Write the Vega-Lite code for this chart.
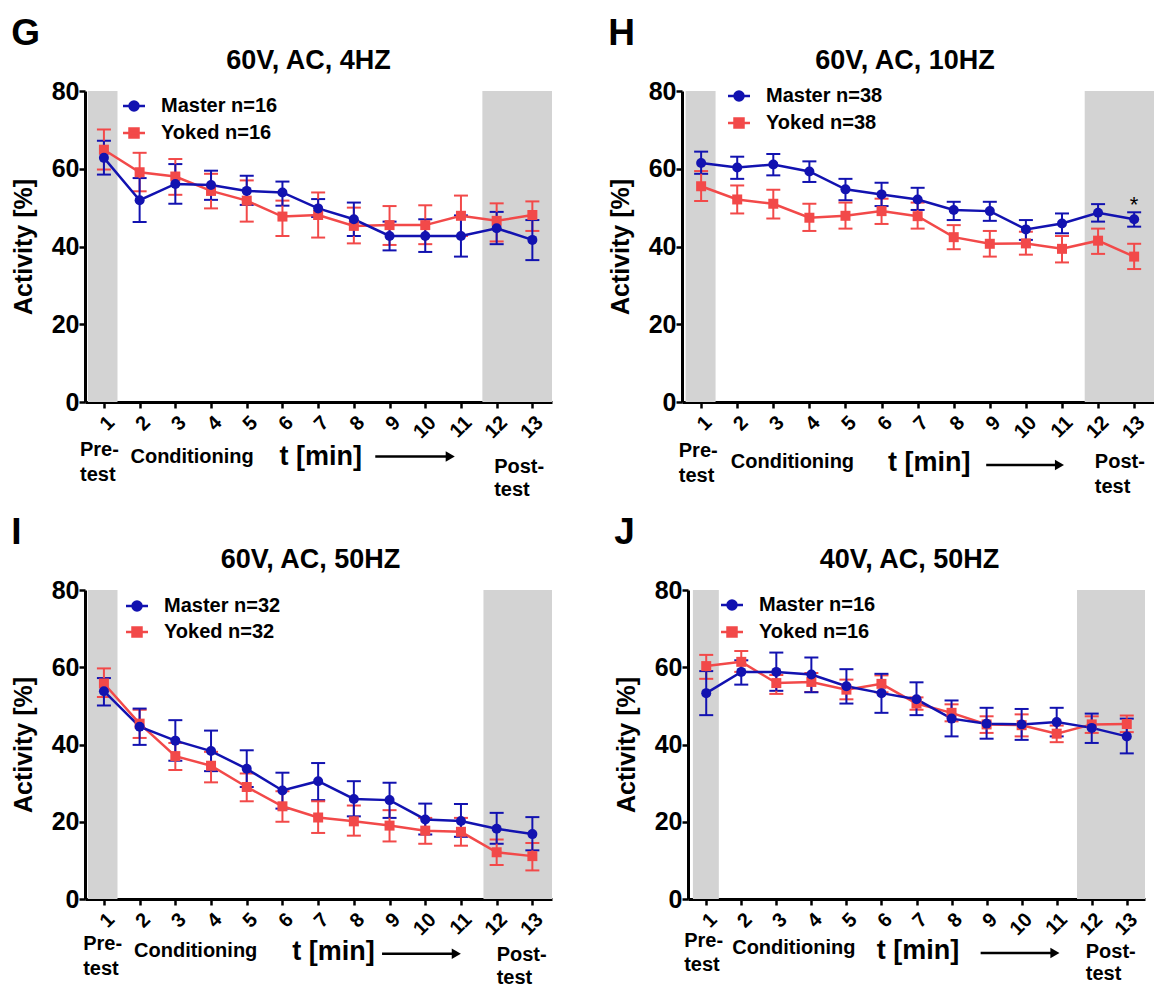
{
  "$schema": "https://vega.github.io/schema/vega-lite/v6.json",
  "autosize": {"type": "pad"},
  "padding": {"left": 11, "top": 15, "right": 0, "bottom": 0},
  "background": "white",
  "config": {
    "font": "Liberation Sans",
    "view": {"stroke": null},
    "axis": {"domainColor": "#000", "domainWidth": 3, "tickColor": "#000", "tickWidth": 2.5, "tickSize": 6, "labelColor": "#000", "labelFont": "Liberation Sans", "labelFontWeight": "bold", "titleColor": "#000", "titleFont": "Liberation Sans", "titleFontWeight": "bold", "grid": false},
    "axisX": {"labelFontSize": 20, "labelAngle": -45, "labelPadding": 4, "tickCount": 13, "labelOverlap": false},
    "axisY": {"labelFontSize": 25, "titleFontSize": 25, "labelPadding": 0, "titlePadding": 15},
    "legend": {"title": null, "orient": "none", "padding": 0, "labelFont": "Liberation Sans", "labelFontSize": 20, "labelFontWeight": "bold", "labelColor": "#000", "symbolSize": 100, "labelOffset": 17, "symbolStrokeWidth": 2.5, "symbolOpacity": 1},
    "title": {"color": "#000", "font": "Liberation Sans", "fontWeight": "bold"},
    "text": {"font": "Liberation Sans", "color": "#000"}
  },
  "resolve": {"scale": {"color": "independent", "shape": "independent"}, "legend": {"color": "independent", "shape": "independent"}},
  "datasets": {
    "G": [
      {"t":1,"grp":"Yoked n=16","m":64.9,"lo":59.8,"hi":70.1},
      {"t":2,"grp":"Yoked n=16","m":59.1,"lo":54.2,"hi":64.1},
      {"t":3,"grp":"Yoked n=16","m":58.0,"lo":53.3,"hi":62.5},
      {"t":4,"grp":"Yoked n=16","m":54.3,"lo":49.8,"hi":58.7},
      {"t":5,"grp":"Yoked n=16","m":51.8,"lo":46.4,"hi":57.0},
      {"t":6,"grp":"Yoked n=16","m":47.7,"lo":42.7,"hi":51.8},
      {"t":7,"grp":"Yoked n=16","m":48.1,"lo":42.3,"hi":53.9},
      {"t":8,"grp":"Yoked n=16","m":45.3,"lo":40.8,"hi":50.0},
      {"t":9,"grp":"Yoked n=16","m":45.5,"lo":40.4,"hi":50.4},
      {"t":10,"grp":"Yoked n=16","m":45.5,"lo":40.6,"hi":50.6},
      {"t":11,"grp":"Yoked n=16","m":47.9,"lo":42.7,"hi":53.1},
      {"t":12,"grp":"Yoked n=16","m":46.6,"lo":41.3,"hi":51.1},
      {"t":13,"grp":"Yoked n=16","m":48.1,"lo":44.0,"hi":51.6},
      {"t":1,"grp":"Master n=16","m":62.8,"lo":58.5,"hi":67.2},
      {"t":2,"grp":"Master n=16","m":51.9,"lo":46.3,"hi":57.6},
      {"t":3,"grp":"Master n=16","m":56.1,"lo":51.0,"hi":61.2},
      {"t":4,"grp":"Master n=16","m":55.8,"lo":52.0,"hi":59.5},
      {"t":5,"grp":"Master n=16","m":54.3,"lo":50.7,"hi":58.2},
      {"t":6,"grp":"Master n=16","m":53.9,"lo":50.5,"hi":56.7},
      {"t":7,"grp":"Master n=16","m":49.8,"lo":47.6,"hi":52.2},
      {"t":8,"grp":"Master n=16","m":47.0,"lo":42.7,"hi":51.3},
      {"t":9,"grp":"Master n=16","m":42.7,"lo":39.0,"hi":46.4},
      {"t":10,"grp":"Master n=16","m":42.7,"lo":38.6,"hi":47.0},
      {"t":11,"grp":"Master n=16","m":42.7,"lo":37.4,"hi":48.0},
      {"t":12,"grp":"Master n=16","m":44.7,"lo":40.6,"hi":48.9},
      {"t":13,"grp":"Master n=16","m":41.7,"lo":36.5,"hi":46.8}
    ],
    "H": [
      {"t":1,"grp":"Yoked n=38","m":55.5,"lo":51.7,"hi":59.4},
      {"t":2,"grp":"Yoked n=38","m":52.1,"lo":48.5,"hi":55.7},
      {"t":3,"grp":"Yoked n=38","m":51.0,"lo":47.2,"hi":54.6},
      {"t":4,"grp":"Yoked n=38","m":47.4,"lo":44.0,"hi":51.0},
      {"t":5,"grp":"Yoked n=38","m":47.9,"lo":44.6,"hi":51.3},
      {"t":6,"grp":"Yoked n=38","m":49.1,"lo":45.8,"hi":52.3},
      {"t":7,"grp":"Yoked n=38","m":47.8,"lo":44.6,"hi":51.3},
      {"t":8,"grp":"Yoked n=38","m":42.4,"lo":39.3,"hi":45.5},
      {"t":9,"grp":"Yoked n=38","m":40.7,"lo":37.4,"hi":44.0},
      {"t":10,"grp":"Yoked n=38","m":40.8,"lo":37.9,"hi":43.8},
      {"t":11,"grp":"Yoked n=38","m":39.4,"lo":35.9,"hi":42.7},
      {"t":12,"grp":"Yoked n=38","m":41.5,"lo":38.1,"hi":44.6},
      {"t":13,"grp":"Yoked n=38","m":37.4,"lo":34.2,"hi":40.7},
      {"t":1,"grp":"Master n=38","m":61.5,"lo":58.7,"hi":64.4},
      {"t":2,"grp":"Master n=38","m":60.3,"lo":57.4,"hi":63.1},
      {"t":3,"grp":"Master n=38","m":61.1,"lo":58.3,"hi":63.8},
      {"t":4,"grp":"Master n=38","m":59.3,"lo":56.6,"hi":61.9},
      {"t":5,"grp":"Master n=38","m":54.7,"lo":51.9,"hi":57.4},
      {"t":6,"grp":"Master n=38","m":53.4,"lo":50.4,"hi":56.4},
      {"t":7,"grp":"Master n=38","m":52.1,"lo":49.4,"hi":55.1},
      {"t":8,"grp":"Master n=38","m":49.4,"lo":46.8,"hi":51.5},
      {"t":9,"grp":"Master n=38","m":49.1,"lo":46.6,"hi":51.5},
      {"t":10,"grp":"Master n=38","m":44.4,"lo":41.7,"hi":46.8},
      {"t":11,"grp":"Master n=38","m":45.9,"lo":43.4,"hi":48.5},
      {"t":12,"grp":"Master n=38","m":48.7,"lo":46.4,"hi":50.9},
      {"t":13,"grp":"Master n=38","m":47.0,"lo":45.1,"hi":48.8}
    ],
    "I": [
      {"t":1,"grp":"Yoked n=32","m":55.8,"lo":52.3,"hi":59.7},
      {"t":2,"grp":"Yoked n=32","m":45.4,"lo":41.7,"hi":49.0},
      {"t":3,"grp":"Yoked n=32","m":37.0,"lo":33.4,"hi":40.4},
      {"t":4,"grp":"Yoked n=32","m":34.5,"lo":30.2,"hi":38.1},
      {"t":5,"grp":"Yoked n=32","m":29.0,"lo":25.3,"hi":32.5},
      {"t":6,"grp":"Yoked n=32","m":24.0,"lo":20.0,"hi":27.9},
      {"t":7,"grp":"Yoked n=32","m":21.1,"lo":17.1,"hi":25.3},
      {"t":8,"grp":"Yoked n=32","m":20.1,"lo":16.4,"hi":24.2},
      {"t":9,"grp":"Yoked n=32","m":19.0,"lo":14.9,"hi":23.0},
      {"t":10,"grp":"Yoked n=32","m":17.7,"lo":14.3,"hi":21.0},
      {"t":11,"grp":"Yoked n=32","m":17.4,"lo":13.8,"hi":21.0},
      {"t":12,"grp":"Yoked n=32","m":12.1,"lo":8.8,"hi":15.4},
      {"t":13,"grp":"Yoked n=32","m":11.1,"lo":7.4,"hi":14.5},
      {"t":1,"grp":"Master n=32","m":53.8,"lo":50.1,"hi":57.2},
      {"t":2,"grp":"Master n=32","m":44.6,"lo":39.9,"hi":49.3},
      {"t":3,"grp":"Master n=32","m":41.0,"lo":35.8,"hi":46.3},
      {"t":4,"grp":"Master n=32","m":38.3,"lo":33.1,"hi":43.6},
      {"t":5,"grp":"Master n=32","m":33.7,"lo":29.0,"hi":38.5},
      {"t":6,"grp":"Master n=32","m":28.1,"lo":23.4,"hi":32.7},
      {"t":7,"grp":"Master n=32","m":30.5,"lo":25.6,"hi":35.2},
      {"t":8,"grp":"Master n=32","m":25.9,"lo":21.4,"hi":30.5},
      {"t":9,"grp":"Master n=32","m":25.6,"lo":21.0,"hi":30.1},
      {"t":10,"grp":"Master n=32","m":20.6,"lo":16.7,"hi":24.7},
      {"t":11,"grp":"Master n=32","m":20.2,"lo":16.1,"hi":24.6},
      {"t":12,"grp":"Master n=32","m":18.2,"lo":14.3,"hi":22.3},
      {"t":13,"grp":"Master n=32","m":16.8,"lo":12.6,"hi":21.2}
    ],
    "J": [
      {"t":1,"grp":"Yoked n=16","m":60.3,"lo":57.0,"hi":63.2},
      {"t":2,"grp":"Yoked n=16","m":61.4,"lo":58.8,"hi":64.2},
      {"t":3,"grp":"Yoked n=16","m":55.9,"lo":53.1,"hi":58.0},
      {"t":4,"grp":"Yoked n=16","m":56.2,"lo":53.6,"hi":58.5},
      {"t":5,"grp":"Yoked n=16","m":54.2,"lo":51.7,"hi":56.8},
      {"t":6,"grp":"Yoked n=16","m":55.7,"lo":53.5,"hi":57.9},
      {"t":7,"grp":"Yoked n=16","m":50.6,"lo":49.0,"hi":52.2},
      {"t":8,"grp":"Yoked n=16","m":48.2,"lo":46.0,"hi":50.4},
      {"t":9,"grp":"Yoked n=16","m":45.2,"lo":43.0,"hi":47.3},
      {"t":10,"grp":"Yoked n=16","m":45.0,"lo":42.1,"hi":47.8},
      {"t":11,"grp":"Yoked n=16","m":42.8,"lo":40.6,"hi":44.9},
      {"t":12,"grp":"Yoked n=16","m":45.2,"lo":43.0,"hi":47.3},
      {"t":13,"grp":"Yoked n=16","m":45.3,"lo":43.2,"hi":47.5},
      {"t":1,"grp":"Master n=16","m":53.3,"lo":47.6,"hi":59.0},
      {"t":2,"grp":"Master n=16","m":58.8,"lo":55.5,"hi":61.8},
      {"t":3,"grp":"Master n=16","m":58.8,"lo":53.9,"hi":63.8},
      {"t":4,"grp":"Master n=16","m":58.1,"lo":53.5,"hi":62.5},
      {"t":5,"grp":"Master n=16","m":55.1,"lo":50.6,"hi":59.5},
      {"t":6,"grp":"Master n=16","m":53.3,"lo":48.2,"hi":58.3},
      {"t":7,"grp":"Master n=16","m":51.7,"lo":47.6,"hi":56.1},
      {"t":8,"grp":"Master n=16","m":46.7,"lo":42.1,"hi":51.4},
      {"t":9,"grp":"Master n=16","m":45.4,"lo":41.5,"hi":49.5},
      {"t":10,"grp":"Master n=16","m":45.2,"lo":41.2,"hi":49.2},
      {"t":11,"grp":"Master n=16","m":45.8,"lo":42.1,"hi":49.5},
      {"t":12,"grp":"Master n=16","m":44.3,"lo":40.4,"hi":48.0},
      {"t":13,"grp":"Master n=16","m":42.1,"lo":37.7,"hi":46.7}
    ]
  },
  "vconcat": [
    {
      "resolve": {"scale": {"color": "independent", "shape": "independent"}, "legend": {"color": "independent", "shape": "independent"}},
      "hconcat": [
        {
          "title": {"text": "G", "anchor": "start", "frame": "bounds", "fontSize": 37, "offset": -6},
          "vconcat": [
            {
              "title": {"text": "60V, AC, 4HZ", "anchor": "middle", "fontSize": 27, "offset": 4, "dx": -10},
              "width": 467, "height": 311,
              "resolve": {"scale": {"color": "independent"}, "legend": {"color": "independent"}},
              "layer": [
                {"data": {"values": [{}]}, "mark": {"type": "rect", "color": "#d3d3d3"}, "encoding": {"x": {"datum": 0.55, "type": "quantitative", "scale": {"domain": [0.47, 13.55], "nice": false, "zero": false}, "axis": {"values": [1,2,3,4,5,6,7,8,9,10,11,12,13], "tickCount": 13, "title": null, "format": "d", "labelOverlap": false, "labelBound": false, "labelFlush": false}}, "x2": {"datum": 1.38}, "y": {"datum": 0, "type": "quantitative", "scale": {"domain": [0, 80], "nice": false}, "axis": {"values": [0,20,40,60,80], "title": "Activity [%]"}}, "y2": {"datum": 80}}},
                {"data": {"values": [{}]}, "mark": {"type": "rect", "color": "#d3d3d3"}, "encoding": {"x": {"datum": 11.6, "type": "quantitative"}, "x2": {"datum": 13.55}, "y": {"datum": 0, "type": "quantitative"}, "y2": {"datum": 80}}},
                {"data": {"name": "G"}, "mark": {"type": "errorbar", "thickness": 2, "opacity": 1, "ticks": {"size": 14, "thickness": 2}}, "encoding": {"x": {"field": "t", "type": "quantitative"}, "y": {"field": "lo", "type": "quantitative", "title": "Activity [%]"}, "y2": {"field": "hi"}, "color": {"field": "grp", "type": "nominal", "scale": {"domain": ["Master n=16", "Yoked n=16"], "range": ["#1212b0", "#f24949"]}, "legend": null}}},
                {"data": {"name": "G"}, "mark": {"type": "line", "strokeWidth": 2.5}, "encoding": {"x": {"field": "t", "type": "quantitative"}, "y": {"field": "m", "type": "quantitative", "title": "Activity [%]"}, "color": {"field": "grp", "type": "nominal", "scale": {"domain": ["Master n=16", "Yoked n=16"], "range": ["#1212b0", "#f24949"]}, "legend": null}}},
                {"data": {"name": "G"}, "mark": {"type": "point", "filled": true, "opacity": 1, "size": 100}, "encoding": {"x": {"field": "t", "type": "quantitative"}, "y": {"field": "m", "type": "quantitative", "title": "Activity [%]"}, "color": {"field": "grp", "type": "nominal", "scale": {"domain": ["Master n=16", "Yoked n=16"], "range": ["#1212b0", "#f24949"]}, "legend": null}, "shape": {"field": "grp", "type": "nominal", "scale": {"domain": ["Master n=16", "Yoked n=16"], "range": ["circle", "square"]}, "legend": null}}},
                {"data": {"name": "G"}, "mark": {"type": "point", "filled": true, "opacity": 0, "size": 1}, "encoding": {"x": {"field": "t", "type": "quantitative"}, "y": {"field": "m", "type": "quantitative", "title": "Activity [%]"}, "color": {"field": "grp", "type": "nominal", "scale": {"domain": ["Master n=16", "Yoked n=16"], "range": ["#1212b0", "#f24949"]}, "legend": {"values": ["Master n=16"], "legendX": 39, "legendY": 5, "symbolType": "M-2.2,0L2.2,0M-0.9,0A0.9,0.9,0,1,0,0.9,0A0.9,0.9,0,1,0,-0.9,0Z", "symbolFillColor": "#1212b0", "symbolStrokeColor": "#1212b0"}}}},
                {"data": {"name": "G"}, "mark": {"type": "point", "filled": true, "opacity": 0, "size": 1}, "encoding": {"x": {"field": "t", "type": "quantitative"}, "y": {"field": "m", "type": "quantitative", "title": "Activity [%]"}, "color": {"field": "grp", "type": "nominal", "scale": {"domain": ["Master n=16", "Yoked n=16"], "range": ["#1212b0", "#f24949"]}, "legend": {"values": ["Yoked n=16"], "legendX": 39, "legendY": 32, "symbolType": "M-2.2,0L2.2,0M-0.9,-0.9L0.9,-0.9L0.9,0.9L-0.9,0.9Z", "symbolFillColor": "#f24949", "symbolStrokeColor": "#f24949"}}}},
                {"data": {"values": [{}]}, "mark": {"type": "text", "align": "left", "baseline": "alphabetic", "fontSize": 20, "fontWeight": "bold", "lineHeight": 25}, "encoding": {"x": {"datum": 0.33, "type": "quantitative"}, "y": {"datum": -13.8, "type": "quantitative"}, "text": {"value": ["Pre-", "test"]}}},
                {"data": {"values": [{}]}, "mark": {"type": "text", "align": "center", "baseline": "alphabetic", "fontSize": 20, "fontWeight": "bold"}, "encoding": {"x": {"datum": 3.47, "type": "quantitative"}, "y": {"datum": -15.8, "type": "quantitative"}, "text": {"value": "Conditioning"}}},
                {"data": {"values": [{}]}, "mark": {"type": "text", "align": "center", "baseline": "alphabetic", "fontSize": 27, "fontWeight": "bold"}, "encoding": {"x": {"datum": 7.07, "type": "quantitative"}, "y": {"datum": -16.3, "type": "quantitative"}, "text": {"value": "t [min]"}}},
                {"data": {"values": [{}]}, "mark": {"type": "rule", "strokeWidth": 2.5, "color": "#000"}, "encoding": {"x": {"datum": 8.6, "type": "quantitative"}, "x2": {"datum": 10.6}, "y": {"datum": -14.0, "type": "quantitative"}}},
                {"data": {"values": [{}]}, "mark": {"type": "point", "shape": "triangle-right", "filled": true, "color": "#000", "opacity": 1, "size": 110}, "encoding": {"x": {"datum": 10.7, "type": "quantitative"}, "y": {"datum": -14.0, "type": "quantitative"}}},
                {"data": {"values": [{}]}, "mark": {"type": "text", "align": "left", "baseline": "alphabetic", "fontSize": 20, "fontWeight": "bold", "lineHeight": 23}, "encoding": {"x": {"datum": 11.93, "type": "quantitative"}, "y": {"datum": -18.3, "type": "quantitative"}, "text": {"value": ["Post-", "test"]}}}
              ]
            }
          ]
        },
        {
          "title": {"text": "H", "anchor": "start", "frame": "bounds", "fontSize": 37, "offset": -6},
          "vconcat": [
            {
              "title": {"text": "60V, AC, 10HZ", "anchor": "middle", "fontSize": 27, "offset": 4, "dx": -13},
              "width": 472, "height": 311,
              "resolve": {"scale": {"color": "independent"}, "legend": {"color": "independent"}},
              "layer": [
                {"data": {"values": [{}]}, "mark": {"type": "rect", "color": "#d3d3d3"}, "encoding": {"x": {"datum": 0.57, "type": "quantitative", "scale": {"domain": [0.47, 13.55], "nice": false, "zero": false}, "axis": {"values": [1,2,3,4,5,6,7,8,9,10,11,12,13], "tickCount": 13, "title": null, "format": "d", "labelOverlap": false, "labelBound": false, "labelFlush": false}}, "x2": {"datum": 1.4}, "y": {"datum": 0, "type": "quantitative", "scale": {"domain": [0, 80], "nice": false}, "axis": {"values": [0,20,40,60,80], "title": "Activity [%]"}}, "y2": {"datum": 80}}},
                {"data": {"values": [{}]}, "mark": {"type": "rect", "color": "#d3d3d3"}, "encoding": {"x": {"datum": 11.63, "type": "quantitative"}, "x2": {"datum": 13.55}, "y": {"datum": 0, "type": "quantitative"}, "y2": {"datum": 80}}},
                {"data": {"name": "H"}, "mark": {"type": "errorbar", "thickness": 2, "opacity": 1, "ticks": {"size": 14, "thickness": 2}}, "encoding": {"x": {"field": "t", "type": "quantitative"}, "y": {"field": "lo", "type": "quantitative", "title": "Activity [%]"}, "y2": {"field": "hi"}, "color": {"field": "grp", "type": "nominal", "scale": {"domain": ["Master n=38", "Yoked n=38"], "range": ["#1212b0", "#f24949"]}, "legend": null}}},
                {"data": {"name": "H"}, "mark": {"type": "line", "strokeWidth": 2.5}, "encoding": {"x": {"field": "t", "type": "quantitative"}, "y": {"field": "m", "type": "quantitative", "title": "Activity [%]"}, "color": {"field": "grp", "type": "nominal", "scale": {"domain": ["Master n=38", "Yoked n=38"], "range": ["#1212b0", "#f24949"]}, "legend": null}}},
                {"data": {"name": "H"}, "mark": {"type": "point", "filled": true, "opacity": 1, "size": 100}, "encoding": {"x": {"field": "t", "type": "quantitative"}, "y": {"field": "m", "type": "quantitative", "title": "Activity [%]"}, "color": {"field": "grp", "type": "nominal", "scale": {"domain": ["Master n=38", "Yoked n=38"], "range": ["#1212b0", "#f24949"]}, "legend": null}, "shape": {"field": "grp", "type": "nominal", "scale": {"domain": ["Master n=38", "Yoked n=38"], "range": ["circle", "square"]}, "legend": null}}},
                {"data": {"name": "H"}, "mark": {"type": "point", "filled": true, "opacity": 0, "size": 1}, "encoding": {"x": {"field": "t", "type": "quantitative"}, "y": {"field": "m", "type": "quantitative", "title": "Activity [%]"}, "color": {"field": "grp", "type": "nominal", "scale": {"domain": ["Master n=38", "Yoked n=38"], "range": ["#1212b0", "#f24949"]}, "legend": {"values": ["Master n=38"], "legendX": 47, "legendY": -5, "symbolType": "M-2.2,0L2.2,0M-0.9,0A0.9,0.9,0,1,0,0.9,0A0.9,0.9,0,1,0,-0.9,0Z", "symbolFillColor": "#1212b0", "symbolStrokeColor": "#1212b0"}}}},
                {"data": {"name": "H"}, "mark": {"type": "point", "filled": true, "opacity": 0, "size": 1}, "encoding": {"x": {"field": "t", "type": "quantitative"}, "y": {"field": "m", "type": "quantitative", "title": "Activity [%]"}, "color": {"field": "grp", "type": "nominal", "scale": {"domain": ["Master n=38", "Yoked n=38"], "range": ["#1212b0", "#f24949"]}, "legend": {"values": ["Yoked n=38"], "legendX": 47, "legendY": 22, "symbolType": "M-2.2,0L2.2,0M-0.9,-0.9L0.9,-0.9L0.9,0.9L-0.9,0.9Z", "symbolFillColor": "#f24949", "symbolStrokeColor": "#f24949"}}}},
                {"data": {"values": [{}]}, "mark": {"type": "text", "align": "center", "baseline": "alphabetic", "fontSize": 22}, "encoding": {"x": {"datum": 13, "type": "quantitative"}, "y": {"datum": 48.8, "type": "quantitative"}, "text": {"value": "*"}}},
                {"data": {"values": [{}]}, "mark": {"type": "text", "align": "left", "baseline": "alphabetic", "fontSize": 20, "fontWeight": "bold", "lineHeight": 25}, "encoding": {"x": {"datum": 0.38, "type": "quantitative"}, "y": {"datum": -14.1, "type": "quantitative"}, "text": {"value": ["Pre-", "test"]}}},
                {"data": {"values": [{}]}, "mark": {"type": "text", "align": "center", "baseline": "alphabetic", "fontSize": 20, "fontWeight": "bold"}, "encoding": {"x": {"datum": 3.53, "type": "quantitative"}, "y": {"datum": -17.0, "type": "quantitative"}, "text": {"value": "Conditioning"}}},
                {"data": {"values": [{}]}, "mark": {"type": "text", "align": "center", "baseline": "alphabetic", "fontSize": 27, "fontWeight": "bold"}, "encoding": {"x": {"datum": 7.32, "type": "quantitative"}, "y": {"datum": -17.8, "type": "quantitative"}, "text": {"value": "t [min]"}}},
                {"data": {"values": [{}]}, "mark": {"type": "rule", "strokeWidth": 2.5, "color": "#000"}, "encoding": {"x": {"datum": 8.9, "type": "quantitative"}, "x2": {"datum": 10.85}, "y": {"datum": -16.2, "type": "quantitative"}}},
                {"data": {"values": [{}]}, "mark": {"type": "point", "shape": "triangle-right", "filled": true, "color": "#000", "opacity": 1, "size": 110}, "encoding": {"x": {"datum": 10.93, "type": "quantitative"}, "y": {"datum": -16.2, "type": "quantitative"}}},
                {"data": {"values": [{}]}, "mark": {"type": "text", "align": "left", "baseline": "alphabetic", "fontSize": 20, "fontWeight": "bold", "lineHeight": 25}, "encoding": {"x": {"datum": 11.91, "type": "quantitative"}, "y": {"datum": -17.0, "type": "quantitative"}, "text": {"value": ["Post-", "test"]}}}
              ]
            }
          ]
        }
      ],
      "spacing": 56
    },
    {
      "resolve": {"scale": {"color": "independent", "shape": "independent"}, "legend": {"color": "independent", "shape": "independent"}},
      "hconcat": [
        {
          "title": {"text": "I", "anchor": "start", "frame": "bounds", "fontSize": 37, "offset": -6},
          "vconcat": [
            {
              "title": {"text": "60V, AC, 50HZ", "anchor": "middle", "fontSize": 27, "offset": 4, "dx": -8},
              "width": 467, "height": 309,
              "resolve": {"scale": {"color": "independent"}, "legend": {"color": "independent"}},
              "layer": [
                {"data": {"values": [{}]}, "mark": {"type": "rect", "color": "#d3d3d3"}, "encoding": {"x": {"datum": 0.55, "type": "quantitative", "scale": {"domain": [0.47, 13.55], "nice": false, "zero": false}, "axis": {"values": [1,2,3,4,5,6,7,8,9,10,11,12,13], "tickCount": 13, "title": null, "format": "d", "labelOverlap": false, "labelBound": false, "labelFlush": false}}, "x2": {"datum": 1.38}, "y": {"datum": 0, "type": "quantitative", "scale": {"domain": [0, 80], "nice": false}, "axis": {"values": [0,20,40,60,80], "title": "Activity [%]"}}, "y2": {"datum": 80}}},
                {"data": {"values": [{}]}, "mark": {"type": "rect", "color": "#d3d3d3"}, "encoding": {"x": {"datum": 11.63, "type": "quantitative"}, "x2": {"datum": 13.55}, "y": {"datum": 0, "type": "quantitative"}, "y2": {"datum": 80}}},
                {"data": {"name": "I"}, "mark": {"type": "errorbar", "thickness": 2, "opacity": 1, "ticks": {"size": 14, "thickness": 2}}, "encoding": {"x": {"field": "t", "type": "quantitative"}, "y": {"field": "lo", "type": "quantitative", "title": "Activity [%]"}, "y2": {"field": "hi"}, "color": {"field": "grp", "type": "nominal", "scale": {"domain": ["Master n=32", "Yoked n=32"], "range": ["#1212b0", "#f24949"]}, "legend": null}}},
                {"data": {"name": "I"}, "mark": {"type": "line", "strokeWidth": 2.5}, "encoding": {"x": {"field": "t", "type": "quantitative"}, "y": {"field": "m", "type": "quantitative", "title": "Activity [%]"}, "color": {"field": "grp", "type": "nominal", "scale": {"domain": ["Master n=32", "Yoked n=32"], "range": ["#1212b0", "#f24949"]}, "legend": null}}},
                {"data": {"name": "I"}, "mark": {"type": "point", "filled": true, "opacity": 1, "size": 100}, "encoding": {"x": {"field": "t", "type": "quantitative"}, "y": {"field": "m", "type": "quantitative", "title": "Activity [%]"}, "color": {"field": "grp", "type": "nominal", "scale": {"domain": ["Master n=32", "Yoked n=32"], "range": ["#1212b0", "#f24949"]}, "legend": null}, "shape": {"field": "grp", "type": "nominal", "scale": {"domain": ["Master n=32", "Yoked n=32"], "range": ["circle", "square"]}, "legend": null}}},
                {"data": {"name": "I"}, "mark": {"type": "point", "filled": true, "opacity": 0, "size": 1}, "encoding": {"x": {"field": "t", "type": "quantitative"}, "y": {"field": "m", "type": "quantitative", "title": "Activity [%]"}, "color": {"field": "grp", "type": "nominal", "scale": {"domain": ["Master n=32", "Yoked n=32"], "range": ["#1212b0", "#f24949"]}, "legend": {"values": ["Master n=32"], "legendX": 42, "legendY": 6, "symbolType": "M-2.2,0L2.2,0M-0.9,0A0.9,0.9,0,1,0,0.9,0A0.9,0.9,0,1,0,-0.9,0Z", "symbolFillColor": "#1212b0", "symbolStrokeColor": "#1212b0"}}}},
                {"data": {"name": "I"}, "mark": {"type": "point", "filled": true, "opacity": 0, "size": 1}, "encoding": {"x": {"field": "t", "type": "quantitative"}, "y": {"field": "m", "type": "quantitative", "title": "Activity [%]"}, "color": {"field": "grp", "type": "nominal", "scale": {"domain": ["Master n=32", "Yoked n=32"], "range": ["#1212b0", "#f24949"]}, "legend": {"values": ["Yoked n=32"], "legendX": 42, "legendY": 32, "symbolType": "M-2.2,0L2.2,0M-0.9,-0.9L0.9,-0.9L0.9,0.9L-0.9,0.9Z", "symbolFillColor": "#f24949", "symbolStrokeColor": "#f24949"}}}},
                {"data": {"values": [{}]}, "mark": {"type": "text", "align": "left", "baseline": "alphabetic", "fontSize": 20, "fontWeight": "bold", "lineHeight": 25}, "encoding": {"x": {"datum": 0.42, "type": "quantitative"}, "y": {"datum": -13.2, "type": "quantitative"}, "text": {"value": ["Pre-", "test"]}}},
                {"data": {"values": [{}]}, "mark": {"type": "text", "align": "center", "baseline": "alphabetic", "fontSize": 20, "fontWeight": "bold"}, "encoding": {"x": {"datum": 3.57, "type": "quantitative"}, "y": {"datum": -15.0, "type": "quantitative"}, "text": {"value": "Conditioning"}}},
                {"data": {"values": [{}]}, "mark": {"type": "text", "align": "center", "baseline": "alphabetic", "fontSize": 27, "fontWeight": "bold"}, "encoding": {"x": {"datum": 7.43, "type": "quantitative"}, "y": {"datum": -15.8, "type": "quantitative"}, "text": {"value": "t [min]"}}},
                {"data": {"values": [{}]}, "mark": {"type": "rule", "strokeWidth": 2.5, "color": "#000"}, "encoding": {"x": {"datum": 8.79, "type": "quantitative"}, "x2": {"datum": 10.8}, "y": {"datum": -14.2, "type": "quantitative"}}},
                {"data": {"values": [{}]}, "mark": {"type": "point", "shape": "triangle-right", "filled": true, "color": "#000", "opacity": 1, "size": 110}, "encoding": {"x": {"datum": 10.87, "type": "quantitative"}, "y": {"datum": -14.2, "type": "quantitative"}}},
                {"data": {"values": [{}]}, "mark": {"type": "text", "align": "left", "baseline": "alphabetic", "fontSize": 20, "fontWeight": "bold", "lineHeight": 23}, "encoding": {"x": {"datum": 12.0, "type": "quantitative"}, "y": {"datum": -16.1, "type": "quantitative"}, "text": {"value": ["Post-", "test"]}}}
              ]
            }
          ]
        },
        {
          "title": {"text": "J", "anchor": "start", "frame": "bounds", "fontSize": 37, "offset": -6},
          "vconcat": [
            {
              "title": {"text": "40V, AC, 50HZ", "anchor": "middle", "fontSize": 27, "offset": 4, "dx": -7},
              "width": 457, "height": 309,
              "resolve": {"scale": {"color": "independent"}, "legend": {"color": "independent"}},
              "layer": [
                {"data": {"values": [{}]}, "mark": {"type": "rect", "color": "#d3d3d3"}, "encoding": {"x": {"datum": 0.62, "type": "quantitative", "scale": {"domain": [0.48, 13.52], "nice": false, "zero": false}, "axis": {"values": [1,2,3,4,5,6,7,8,9,10,11,12,13], "tickCount": 13, "title": null, "format": "d", "labelOverlap": false, "labelBound": false, "labelFlush": false}}, "x2": {"datum": 1.36}, "y": {"datum": 0, "type": "quantitative", "scale": {"domain": [0, 80], "nice": false}, "axis": {"values": [0,20,40,60,80], "title": "Activity [%]"}}, "y2": {"datum": 80}}},
                {"data": {"values": [{}]}, "mark": {"type": "rect", "color": "#d3d3d3"}, "encoding": {"x": {"datum": 11.58, "type": "quantitative"}, "x2": {"datum": 13.52}, "y": {"datum": 0, "type": "quantitative"}, "y2": {"datum": 80}}},
                {"data": {"name": "J"}, "mark": {"type": "errorbar", "thickness": 2, "opacity": 1, "ticks": {"size": 14, "thickness": 2}}, "encoding": {"x": {"field": "t", "type": "quantitative"}, "y": {"field": "lo", "type": "quantitative", "title": "Activity [%]"}, "y2": {"field": "hi"}, "color": {"field": "grp", "type": "nominal", "scale": {"domain": ["Master n=16", "Yoked n=16"], "range": ["#1212b0", "#f24949"]}, "legend": null}}},
                {"data": {"name": "J"}, "mark": {"type": "line", "strokeWidth": 2.5}, "encoding": {"x": {"field": "t", "type": "quantitative"}, "y": {"field": "m", "type": "quantitative", "title": "Activity [%]"}, "color": {"field": "grp", "type": "nominal", "scale": {"domain": ["Master n=16", "Yoked n=16"], "range": ["#1212b0", "#f24949"]}, "legend": null}}},
                {"data": {"name": "J"}, "mark": {"type": "point", "filled": true, "opacity": 1, "size": 100}, "encoding": {"x": {"field": "t", "type": "quantitative"}, "y": {"field": "m", "type": "quantitative", "title": "Activity [%]"}, "color": {"field": "grp", "type": "nominal", "scale": {"domain": ["Master n=16", "Yoked n=16"], "range": ["#1212b0", "#f24949"]}, "legend": null}, "shape": {"field": "grp", "type": "nominal", "scale": {"domain": ["Master n=16", "Yoked n=16"], "range": ["circle", "square"]}, "legend": null}}},
                {"data": {"name": "J"}, "mark": {"type": "point", "filled": true, "opacity": 0, "size": 1}, "encoding": {"x": {"field": "t", "type": "quantitative"}, "y": {"field": "m", "type": "quantitative", "title": "Activity [%]"}, "color": {"field": "grp", "type": "nominal", "scale": {"domain": ["Master n=16", "Yoked n=16"], "range": ["#1212b0", "#f24949"]}, "legend": {"values": ["Master n=16"], "legendX": 34, "legendY": 5, "symbolType": "M-2.2,0L2.2,0M-0.9,0A0.9,0.9,0,1,0,0.9,0A0.9,0.9,0,1,0,-0.9,0Z", "symbolFillColor": "#1212b0", "symbolStrokeColor": "#1212b0"}}}},
                {"data": {"name": "J"}, "mark": {"type": "point", "filled": true, "opacity": 0, "size": 1}, "encoding": {"x": {"field": "t", "type": "quantitative"}, "y": {"field": "m", "type": "quantitative", "title": "Activity [%]"}, "color": {"field": "grp", "type": "nominal", "scale": {"domain": ["Master n=16", "Yoked n=16"], "range": ["#1212b0", "#f24949"]}, "legend": {"values": ["Yoked n=16"], "legendX": 34, "legendY": 32, "symbolType": "M-2.2,0L2.2,0M-0.9,-0.9L0.9,-0.9L0.9,0.9L-0.9,0.9Z", "symbolFillColor": "#f24949", "symbolStrokeColor": "#f24949"}}}},
                {"data": {"values": [{}]}, "mark": {"type": "text", "align": "left", "baseline": "alphabetic", "fontSize": 20, "fontWeight": "bold", "lineHeight": 24}, "encoding": {"x": {"datum": 0.37, "type": "quantitative"}, "y": {"datum": -12.5, "type": "quantitative"}, "text": {"value": ["Pre-", "test"]}}},
                {"data": {"values": [{}]}, "mark": {"type": "text", "align": "center", "baseline": "alphabetic", "fontSize": 20, "fontWeight": "bold"}, "encoding": {"x": {"datum": 3.5, "type": "quantitative"}, "y": {"datum": -14.3, "type": "quantitative"}, "text": {"value": "Conditioning"}}},
                {"data": {"values": [{}]}, "mark": {"type": "text", "align": "center", "baseline": "alphabetic", "fontSize": 27, "fontWeight": "bold"}, "encoding": {"x": {"datum": 7.04, "type": "quantitative"}, "y": {"datum": -15.6, "type": "quantitative"}, "text": {"value": "t [min]"}}},
                {"data": {"values": [{}]}, "mark": {"type": "rule", "strokeWidth": 2.5, "color": "#000"}, "encoding": {"x": {"datum": 8.83, "type": "quantitative"}, "x2": {"datum": 10.87}, "y": {"datum": -14.0, "type": "quantitative"}}},
                {"data": {"values": [{}]}, "mark": {"type": "point", "shape": "triangle-right", "filled": true, "color": "#000", "opacity": 1, "size": 110}, "encoding": {"x": {"datum": 10.95, "type": "quantitative"}, "y": {"datum": -14.0, "type": "quantitative"}}},
                {"data": {"values": [{}]}, "mark": {"type": "text", "align": "left", "baseline": "alphabetic", "fontSize": 20, "fontWeight": "bold", "lineHeight": 22}, "encoding": {"x": {"datum": 11.83, "type": "quantitative"}, "y": {"datum": -15.3, "type": "quantitative"}, "text": {"value": ["Post-", "test"]}}}
              ]
            }
          ]
        }
      ],
      "spacing": 62
    }
  ],
  "spacing": 13
}
